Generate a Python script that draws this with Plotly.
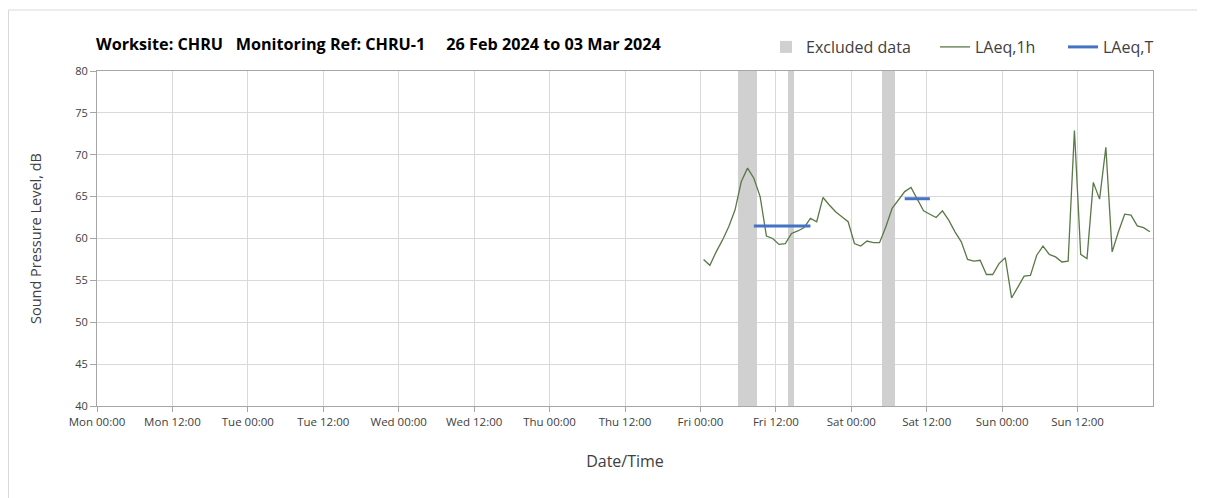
import pandas as pd
import plotly.graph_objects as go

# ---- data ----
laeq_1h_start = "2024-03-01 00:30"   # hourly values plotted at mid-hour
laeq_1h = [
    57.5, 56.8, 58.4, 59.8, 61.4, 63.4, 66.8, 68.4, 67.2, 65.0, 60.3, 60.0,
    59.3, 59.4, 60.6, 60.9, 61.3, 62.4, 62.0, 64.9, 64.0, 63.2, 62.6, 62.0,
    59.4, 59.1, 59.7, 59.5, 59.5, 61.4, 63.6, 64.6, 65.6, 66.1, 64.6, 63.3,
    62.9, 62.5, 63.3, 62.2, 60.8, 59.6, 57.5, 57.3, 57.4, 55.7, 55.7, 57.0,
    57.7, 52.9, 54.2, 55.5, 55.6, 58.0, 59.1, 58.1, 57.8, 57.2, 57.3, 72.9,
    58.1, 57.6, 66.7, 64.7, 70.9, 58.4, 60.8, 62.9, 62.8, 61.5, 61.3, 60.8,
]
laeq_t_start = ["2024-03-01 08:30", "2024-03-02 08:30"]
laeq_t_end = ["2024-03-01 17:30", "2024-03-02 12:30"]
laeq_t = [61.5, 64.75]
excluded_hours = ["2024-03-01 06:00", "2024-03-01 07:00", "2024-03-01 08:00",
                  "2024-03-01 14:00", "2024-03-02 05:00", "2024-03-02 06:00"]
tick_labels = ["Mon 00:00", "Mon 12:00", "Tue 00:00", "Tue 12:00", "Wed 00:00",
               "Wed 12:00", "Thu 00:00", "Thu 12:00", "Fri 00:00", "Fri 12:00",
               "Sat 00:00", "Sat 12:00", "Sun 00:00", "Sun 12:00"]
week_start = "2024-02-26 00:00"
week_end = "2024-03-04 00:00"
y_range = [40, 80]

# ---- build ----
times = pd.date_range(laeq_1h_start, periods=len(laeq_1h), freq="h")
tick_vals = pd.date_range(week_start, periods=len(tick_labels), freq="12h")
excl_centres = [pd.Timestamp(h) + pd.Timedelta(minutes=27) for h in excluded_hours]
hour_ms = 3600 * 1000

tx, ty = [], []
for s, e, v in zip(laeq_t_start, laeq_t_end, laeq_t):
    tx += [pd.Timestamp(s), pd.Timestamp(e), None]
    ty += [v, v, None]

FONT = "'Open Sans', Lato, sans-serif"
TXT = "#404040"
W, H = 1197, 490
L, R, T, B = 89, 52, 63, 92
PW, PH = W - L - R, H - T - B

fig = go.Figure()
fig.add_trace(go.Bar(
    x=excl_centres, y=[y_range[1] - y_range[0]] * len(excl_centres), base=y_range[0],
    width=[hour_ms] * len(excl_centres), marker=dict(color="#d0d0d0", line=dict(width=0)),
    name="Excluded data", hoverinfo="skip", legend="legend"))
fig.add_trace(go.Scatter(
    x=times, y=laeq_1h, mode="lines", name="LAeq,1h",
    line=dict(color="#5a7848", width=1.3), legend="legend2"))
fig.add_trace(go.Scatter(
    x=tx, y=ty, mode="lines", name="LAeq,T",
    line=dict(color="#4472c4", width=3), legend="legend3"))

leg_common = dict(orientation="h", xanchor="left", yanchor="middle",
                  y=1 + 24 / PH, font=dict(size=16, color=TXT, family=FONT),
                  bgcolor="rgba(0,0,0,0)", borderwidth=0)

fig.update_layout(
    width=W, height=H,
    paper_bgcolor="white", plot_bgcolor="white",
    margin=dict(l=L, r=R, t=T, b=B, autoexpand=False),
    bargap=0,
    font=dict(family=FONT, color=TXT, size=11),
    title=dict(
        text="<b>Worksite: CHRU\u00a0\u00a0\u00a0Monitoring Ref: CHRU-1\u00a0\u00a0\u00a0\u00a0\u00a026 Feb 2024 to 03 Mar 2024</b>",
        x=88 / W, xanchor="left", xref="container",
        y=1 - 36 / H, yanchor="middle", yref="container",
        font=dict(size=16.2, color="black", family=FONT)),
    legend=dict(x=(766 - 97) / PW, **leg_common),
    legend2=dict(x=(935 - 97) / PW, **leg_common),
    legend3=dict(x=(1063 - 97) / PW, **leg_common),
    showlegend=True,
    xaxis=dict(
        type="date", range=[week_start, week_end],
        tickvals=tick_vals, ticktext=tick_labels,
        showgrid=True, gridcolor="#d9d9d9", gridwidth=1,
        showline=True, linecolor="#a6a6a6", linewidth=1, mirror=True,
        ticks="outside", ticklen=5, tickcolor="#a6a6a6",
        tickfont=dict(size=11.5, color=TXT),
        title=dict(text="Date/Time", font=dict(size=16, color=TXT), standoff=28),
        zeroline=False),
    yaxis=dict(
        range=y_range, dtick=5, tick0=40,
        showgrid=True, gridcolor="#d9d9d9", gridwidth=1,
        showline=True, linecolor="#a6a6a6", linewidth=1, mirror=True,
        ticks="outside", ticklen=6, tickcolor="#a6a6a6",
        tickfont=dict(size=11, color=TXT),
        title=dict(text="Sound Pressure Level, dB", font=dict(size=14.5, color=TXT), standoff=30),
        zeroline=False),
)
fig.add_shape(type="rect", xref="paper", yref="paper",
              x0=-(L - 0.5) / PW, x1=1.2, y0=-0.5, y1=1 + (T - 2) / PH,
              line=dict(color="#d9d9d9", width=1), fillcolor="rgba(0,0,0,0)", layer="below")

fig.write_html("out.html")
